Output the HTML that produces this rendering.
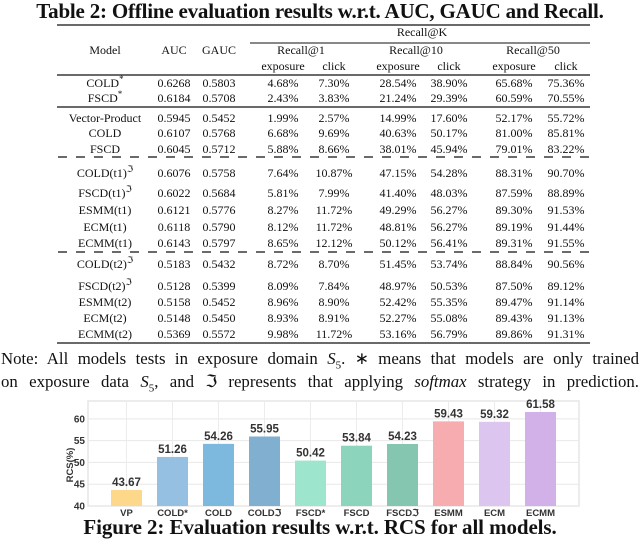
<!DOCTYPE html>
<html><head><meta charset="utf-8"><style>
body{margin:0;width:640px;height:547px;background:#fff;position:relative;overflow:hidden;font-family:"Liberation Serif",serif;color:#111}
.t{position:absolute;white-space:nowrap;font-size:12px;line-height:14px;transform:translate(-50%,-50%)}
.ttl{position:absolute;left:0;width:640px;text-align:center;font-weight:bold;font-size:21px;white-space:nowrap}
.note{position:absolute;left:1px;width:638px;font-size:16.8px;text-align:justify;text-align-last:justify;white-space:nowrap;line-height:22px}
sup{font-size:9px;line-height:0}
sub{line-height:0}
</style></head><body>
<div class="ttl" style="top:-1px;letter-spacing:-0.2px">Table 2: Offline evaluation results w.r.t. AUC, GAUC and Recall.</div>
<svg id="tbl" width="640" height="350" style="position:absolute;left:0;top:0">
<line x1="57" x2="590" y1="25" y2="25" stroke="#111" stroke-width="1.3"/>
<line x1="250" x2="590" y1="43" y2="43" stroke="#111" stroke-width="1"/>
<line x1="57" x2="590" y1="75" y2="75" stroke="#111" stroke-width="1.3"/>
<line x1="57" x2="590" y1="107" y2="107" stroke="#111" stroke-width="1.3"/>
<line x1="58" x2="590" y1="157" y2="157" stroke="#111" stroke-width="1.3" stroke-dasharray="9,9"/>
<line x1="58" x2="590" y1="252" y2="252" stroke="#111" stroke-width="1.3" stroke-dasharray="9,9"/>
<line x1="57" x2="590" y1="343" y2="343" stroke="#111" stroke-width="1.3"/>
</svg>
<div id="table"></div>
<div class="note" style="top:348px">Note: All models tests in exposure domain <i>S</i><sub style="font-size:11px">5</sub>. ∗ means that models are only trained</div>
<div class="note" style="top:371px">on exposure data <i>S</i><sub style="font-size:11px">5</sub>, and ℑ represents that applying <i>softmax</i> strategy in prediction.</div>

<svg id="chart" width="640" height="547" style="position:absolute;left:0;top:0;pointer-events:none"></svg>
<div class="ttl" style="top:515px;letter-spacing:-0.1px">Figure 2: Evaluation results w.r.t. RCS for all models.</div>

<script>
// ---- table ----
var colX=[105,174,219,283,334,398,449,514,566];
var heads=[["Recall@K",422,32],["Model",105,50],["AUC",174,50],["GAUC",219,50],["Recall@1",301,50],["Recall@10",416,50],["Recall@50",533,50],
["exposure",283,66],["click",334,66],["exposure",398,66],["click",449,66],["exposure",514,66],["click",566,66]];
var rowY=[83,98,118,133,149,173,193,210,227,243,264,286,302,318,334];
var rows=[
["COLD<sup>*</sup>","0.6268","0.5803","4.68%","7.30%","28.54%","38.90%","65.68%","75.36%"],
["FSCD<sup>*</sup>","0.6184","0.5708","2.43%","3.83%","21.24%","29.39%","60.59%","70.55%"],
["Vector-Product","0.5945","0.5452","1.99%","2.57%","14.99%","17.60%","52.17%","55.72%"],
["COLD","0.6107","0.5768","6.68%","9.69%","40.63%","50.17%","81.00%","85.81%"],
["FSCD","0.6045","0.5712","5.88%","8.66%","38.01%","45.94%","79.01%","83.22%"],
["COLD(t1)<sup>ℑ</sup>","0.6076","0.5758","7.64%","10.87%","47.15%","54.28%","88.31%","90.70%"],
["FSCD(t1)<sup>ℑ</sup>","0.6022","0.5684","5.81%","7.99%","41.40%","48.03%","87.59%","88.89%"],
["ESMM(t1)","0.6121","0.5776","8.27%","11.72%","49.29%","56.27%","89.30%","91.53%"],
["ECM(t1)","0.6118","0.5790","8.12%","11.72%","48.81%","56.27%","89.19%","91.44%"],
["ECMM(t1)","0.6143","0.5797","8.65%","12.12%","50.12%","56.41%","89.31%","91.55%"],
["COLD(t2)<sup>ℑ</sup>","0.5183","0.5432","8.72%","8.70%","51.45%","53.74%","88.84%","90.56%"],
["FSCD(t2)<sup>ℑ</sup>","0.5128","0.5399","8.09%","7.84%","48.97%","50.53%","87.50%","89.12%"],
["ESMM(t2)","0.5158","0.5452","8.96%","8.90%","52.42%","55.35%","89.47%","91.14%"],
["ECM(t2)","0.5148","0.5450","8.93%","8.91%","52.27%","55.08%","89.43%","91.13%"],
["ECMM(t2)","0.5369","0.5572","9.98%","11.72%","53.16%","56.79%","89.86%","91.31%"]];
var tb=document.getElementById('table');
heads.forEach(function(h){
  var d=document.createElement('div');d.className='t';d.innerHTML=h[0];
  d.style.left=h[1]+'px';d.style.top=h[2]+'px';
  
  
  tb.appendChild(d);
});
rows.forEach(function(r,i){
  r.forEach(function(c,j){
    var d=document.createElement('div');d.className='t';d.innerHTML=c;
    d.style.left=colX[j]+'px';d.style.top=rowY[i]+'px';
    
    
    tb.appendChild(d);
  });
});

// ---- chart ----
var categories=["VP","COLD*","COLD","COLD\u2111","FSCD*","FSCD","FSCD\u2111","ESMM","ECM","ECMM"];
var values=[43.67,51.26,54.26,55.95,50.42,53.84,54.23,59.43,59.32,61.58];
var yTicks=[40,45,50,55,60];
var colors=["#fed88a","#95c0e2","#7db9de","#80afd0","#9de5cc","#8dd4bc","#84c6b0","#f7adb0","#dcc6ef","#d2b1e8"];
var plotL=88,plotR=579,plotT=401,plotB=506,yMin=40,yMax=64.1;
function y(v){return plotB-(v-yMin)/(yMax-yMin)*(plotB-plotT);}
var step=46,first=126.5,bw=31;
function x(i){return first+i*step;}
var svg=document.getElementById('chart'),NS="http://www.w3.org/2000/svg";
function el(t,a){var e=document.createElementNS(NS,t);for(var k in a)e.setAttribute(k,a[k]);svg.appendChild(e);return e;}
var bg=el('rect',{x:plotL,y:plotT,width:plotR-plotL,height:plotB-plotT,fill:"#fff",stroke:"#e6e6e6","stroke-width":1.5});


yTicks.forEach(function(t){
  var g=el('line',{x1:plotL,x2:plotR,y1:y(t),y2:y(t),stroke:"#e8e8e8","stroke-width":1});
  
  
  var tx=el('text',{x:85,y:y(t)+3.5,"text-anchor":"end","font-size":"10","font-family":"Liberation Sans, sans-serif","font-weight":"bold",fill:"#333"});
  tx.textContent=t;
  
  
});
categories.forEach(function(c,i){
  var g=el('line',{x1:x(i),x2:x(i),y1:plotT,y2:plotB,stroke:"#ececec","stroke-width":1});
  
  
});
categories.forEach(function(c,i){
  var b=el('rect',{x:x(i)-bw/2,y:y(values[i]),width:bw,height:plotB-y(values[i]),fill:colors[i]});
  
  
  var v=el('text',{x:x(i),y:y(values[i])-4,"text-anchor":"middle","font-size":"11.5","font-family":"Liberation Sans, sans-serif","font-weight":"bold",fill:"#333"});
  v.textContent=values[i].toFixed(2);
  
  
  var l=el('text',{x:x(i),y:516,"text-anchor":"middle","font-size":"9.5","font-family":"Liberation Sans, sans-serif","font-weight":"bold",fill:"#333"});
  l.textContent=c;
  
  
});
var yl=el('text',{x:0,y:0,transform:"translate(73,465) rotate(-90)","text-anchor":"middle","font-size":"9.5","font-family":"Liberation Sans, sans-serif","font-weight":"bold",fill:"#333"});
yl.textContent="RCS(%)";


</script>
</body></html>
